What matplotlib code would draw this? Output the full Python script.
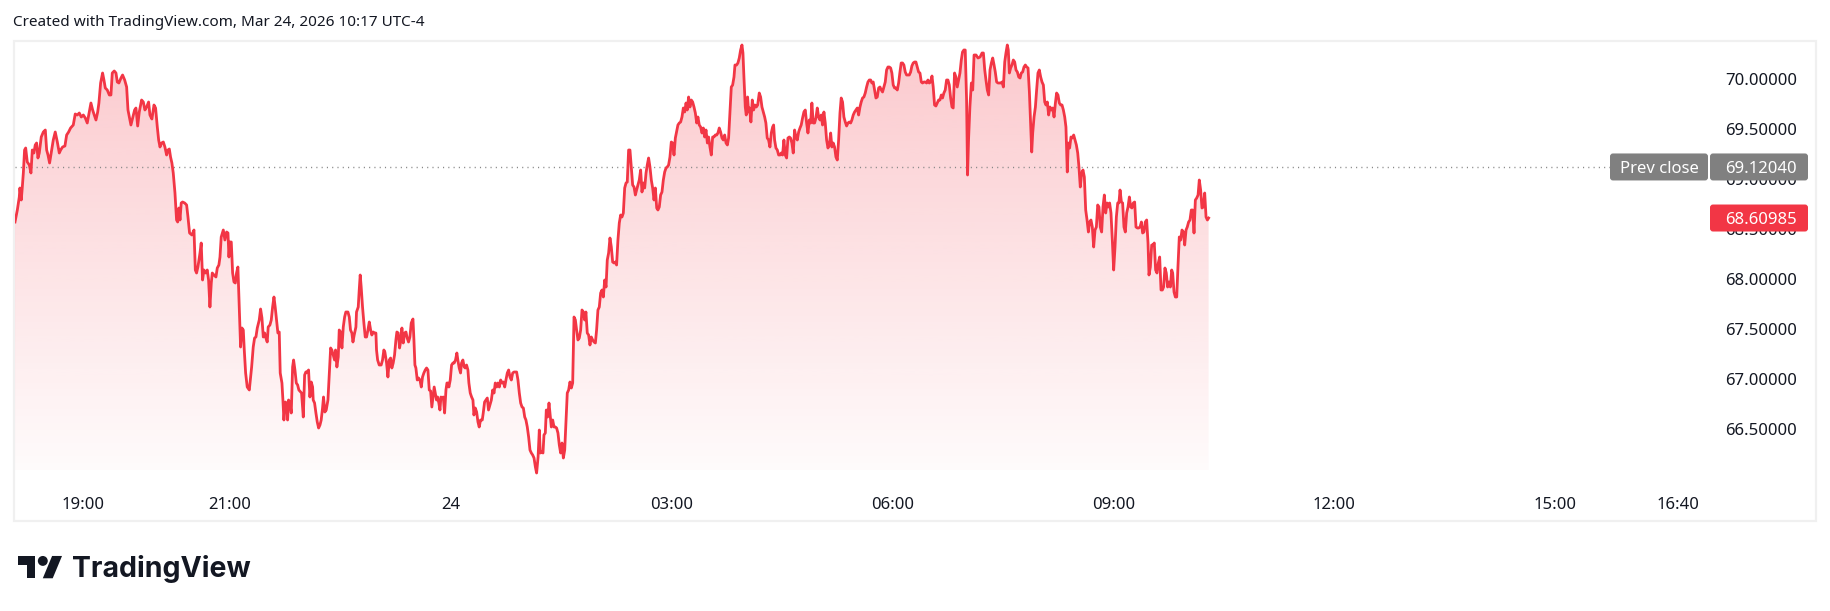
import numpy as np
import matplotlib.pyplot as plt
from matplotlib.colors import to_rgb
from matplotlib.patches import Rectangle, FancyBboxPatch, Polygon, Circle
from matplotlib.transforms import IdentityTransform

plt.rcParams['font.family'] = ['Noto Sans', 'DejaVu Sans']

# ===================== data: minutes after 18:00 (Mar 23) and price =====================
evening_t = [
    4.6, 6.5, 8.1, 8.6, 9.7, 10.5, 11.4, 12.4, 13.3, 14.6,
    16.3, 17.6, 18.7, 20.0, 21.1, 22.2, 23.3, 24.4, 26.0, 27.7,
    29.3, 30.4, 31.5, 32.8, 34.2, 35.8, 37.4, 39.1, 40.7, 41.8,
    43.4, 45.3, 46.7, 48.3, 49.9, 52.1, 53.7, 55.4, 57.0, 58.6,
    60.3, 61.9, 63.5, 65.2, 66.5, 67.9, 69.2, 70.6, 72.0, 73.0,
    74.4, 76.0, 77.1, 78.2, 79.8, 81.5, 82.8, 83.9, 85.5, 86.9,
    88.0, 89.3, 91.0, 92.3, 94.0, 95.6, 96.7, 97.8, 99.1, 100.5,
    102.1, 103.2, 104.6, 105.9, 107.8, 109.2, 110.5, 111.9, 113.5, 114.6,
    116.2, 117.9, 119.2, 120.6, 121.7, 122.8, 124.1, 125.5, 126.8, 128.2,
    129.3, 130.4, 131.4, 132.5, 133.6, 135.0, 136.3, 137.2, 138.2, 139.1,
    140.1, 141.2, 142.9, 144.5, 145.6, 146.9, 148.8, 150.5, 151.6, 152.6,
    153.7, 155.4, 156.4, 157.5, 158.6, 160.0, 161.3, 162.4, 163.5, 164.6,
    165.4, 166.8, 168.4, 169.5, 170.8, 171.7, 172.7, 174.4, 175.7, 177.1,
    178.2, 179.0, 179.8, 180.9, 182.0, 183.1, 184.2, 185.2, 186.3, 187.4,
    188.5, 189.6, 190.7, 191.5, 192.6, 193.9, 195.6,
]
evening_p = [
    68.57, 68.69, 68.82, 68.91, 68.79, 68.91, 69.06, 69.29, 69.31, 69.17,
    69.14, 69.06, 69.29, 69.26, 69.34, 69.36, 69.21, 69.26, 69.42, 69.47,
    69.49, 69.29, 69.24, 69.16, 69.27, 69.39, 69.47, 69.37, 69.26, 69.29,
    69.32, 69.33, 69.44, 69.47, 69.51, 69.54, 69.65, 69.64, 69.66, 69.62,
    69.64, 69.61, 69.56, 69.67, 69.76, 69.69, 69.64, 69.59, 69.67, 69.76,
    69.96, 70.06, 69.99, 69.91, 69.89, 69.84, 69.84, 70.06, 70.08, 70.06,
    69.97, 69.96, 70.01, 70.04, 69.99, 69.92, 69.69, 69.62, 69.54, 69.61,
    69.69, 69.71, 69.53, 69.67, 69.79, 69.77, 69.69, 69.72, 69.77, 69.64,
    69.60, 69.74, 69.71, 69.52, 69.39, 69.32, 69.36, 69.37, 69.32, 69.24,
    69.29, 69.30, 69.22, 69.16, 69.06, 68.86, 68.59, 68.57, 68.71, 68.59,
    68.76, 68.77, 68.76, 68.74, 68.62, 68.46, 68.44, 68.49, 68.09, 68.06,
    68.12, 68.26, 68.36, 67.99, 68.09, 68.06, 68.09, 67.99, 67.72, 67.96,
    68.06, 68.04, 68.02, 68.11, 68.14, 68.22, 68.42, 68.49, 68.39, 68.47,
    68.46, 68.22, 68.37, 68.37, 68.06, 67.97, 67.96, 68.06, 68.12, 67.72,
    67.32, 67.51, 67.49, 67.29, 67.06, 66.92, 66.89,
]

night_t = [
    197.5, 198.8, 199.9, 201.0, 202.1, 203.7, 204.8, 205.9, 207.0, 208.1,
    209.1, 210.2, 211.0, 212.4, 213.5, 214.6, 215.7, 216.7, 217.8, 218.9,
    220.0, 220.8, 222.2, 223.0, 223.8, 224.9, 226.0, 226.8, 227.6, 228.7,
    229.8, 230.9, 231.7, 232.8, 233.9, 235.0, 236.0, 237.4, 238.2, 239.6,
    240.7, 241.7, 242.8, 243.9, 245.0, 246.1, 247.2, 247.7, 248.8, 249.9,
    251.0, 252.1, 253.2, 254.2, 255.3, 256.1, 257.2, 258.3, 259.7, 260.8,
    261.9, 262.9, 264.0, 265.1, 265.9, 267.0, 268.1, 268.9, 270.0, 271.1,
    272.2, 273.3, 274.3, 276.0, 277.1, 278.1, 279.2, 280.1, 281.1, 282.5,
    283.0, 284.4, 285.2, 286.0, 286.8, 287.9, 289.0, 290.1, 291.2, 292.3,
    293.4, 294.5, 295.5, 296.6, 297.7, 298.8, 299.3, 300.2, 301.5, 303.1,
    304.2, 305.3, 306.1, 307.5, 308.6, 309.7, 310.8, 311.8, 312.9, 314.0,
    315.1, 315.9, 317.0, 318.1, 318.9, 320.0, 321.1, 322.2, 323.3, 324.3,
    325.4, 326.5, 327.6, 329.0, 329.8, 330.6, 331.4, 332.5, 333.6, 334.7,
    335.8, 336.8, 337.9, 339.0, 340.1, 341.2, 342.3, 343.4, 344.4, 345.5,
    346.3, 347.2, 348.2, 349.1, 350.1, 351.0, 351.8, 352.6, 353.7, 354.8,
    355.9, 356.7, 357.5, 358.3, 359.4, 360.5, 361.6, 362.6, 363.7, 364.8,
    365.6, 366.7, 367.8, 368.6, 369.7, 370.8, 371.6, 372.7, 373.8, 374.6,
    375.7, 376.8, 377.9, 378.7, 379.8, 380.9, 382.0, 383.0, 384.1, 385.5,
    386.3, 387.4, 388.5, 389.6, 390.6,
]
night_p = [
    67.12, 67.32, 67.41, 67.42, 67.51, 67.59, 67.70, 67.61, 67.42, 67.46,
    67.41, 67.37, 67.52, 67.54, 67.59, 67.72, 67.82, 67.72, 67.59, 67.46,
    67.47, 67.06, 66.96, 66.79, 66.59, 66.77, 66.76, 66.59, 66.79, 66.76,
    66.66, 67.12, 67.19, 67.09, 66.96, 66.94, 66.89, 66.87, 66.86, 66.62,
    67.04, 67.07, 67.07, 67.09, 66.82, 66.97, 66.92, 66.79, 66.76, 66.66,
    66.57, 66.51, 66.54, 66.59, 66.71, 66.82, 66.67, 66.69, 66.79, 67.06,
    67.31, 67.29, 67.24, 67.19, 67.29, 67.12, 67.22, 67.49, 67.47, 67.31,
    67.52, 67.62, 67.67, 67.67, 67.62, 67.49, 67.46, 67.37, 67.44, 67.52,
    67.67, 67.72, 67.89, 68.04, 67.92, 67.72, 67.56, 67.42, 67.42, 67.49,
    67.57, 67.49, 67.44, 67.47, 67.46, 67.46, 67.29, 67.19, 67.14, 67.14,
    67.19, 67.29, 67.27, 67.16, 67.02, 67.19, 67.21, 67.11, 67.16, 67.24,
    67.39, 67.47, 67.46, 67.31, 67.37, 67.51, 67.36, 67.46, 67.47, 67.41,
    67.37, 67.42, 67.56, 67.60, 67.39, 67.14, 67.11, 66.99, 67.01, 66.99,
    66.92, 67.02, 67.06, 67.09, 67.11, 67.09, 66.89, 66.88, 66.72, 66.84,
    66.92, 66.86, 66.79, 66.82, 66.76, 66.69, 66.82, 66.81, 66.82, 66.66,
    66.89, 66.96, 66.96, 66.92, 66.99, 67.14, 67.16, 67.16, 67.19, 67.26,
    67.19, 67.11, 67.06, 67.16, 67.19, 67.12, 67.11, 67.14, 67.09, 66.96,
    66.86, 66.82, 66.79, 66.64, 66.71, 66.67, 66.57, 66.52, 66.59, 66.59,
    66.66, 66.77, 66.79, 66.81, 66.69,
]

early_t = [
    392.9, 394.0, 395.1, 396.1, 397.2, 398.3, 399.4, 400.5, 401.6, 402.7,
    403.8, 404.8, 405.9, 407.0, 408.1, 409.2, 410.3, 411.4, 412.4, 413.5,
    414.6, 415.7, 416.8, 417.9, 419.0, 420.1, 421.1, 422.2, 423.3, 424.4,
    425.5, 426.6, 427.7, 428.8, 429.8, 431.0, 432.0, 432.8, 433.9, 435.0,
    435.8, 436.9, 437.7, 438.8, 439.9, 440.7, 441.8, 442.9, 444.0, 445.1,
    446.1, 447.2, 448.3, 449.4, 450.5, 451.6, 452.7, 453.7, 454.8, 455.9,
    457.0, 458.1, 459.2, 460.3, 461.4, 462.4, 463.5, 464.6, 465.7, 466.8,
    467.9, 469.0, 470.0, 471.1, 472.2, 473.3, 474.4, 475.5, 476.6, 477.7,
    478.7, 479.8, 480.9, 482.0, 483.1, 484.2, 485.3, 486.4, 487.4, 488.5,
    489.6, 490.7, 491.8, 492.9, 494.0, 495.0, 496.1, 497.2, 498.3, 499.4,
    500.5, 501.6, 502.7, 503.7, 504.8, 505.9, 507.0, 508.1, 509.2, 510.3,
    511.3, 512.4, 513.5, 514.6, 515.7, 516.8, 517.9, 519.0, 520.0, 521.1,
    522.2, 523.3, 524.4, 525.5, 526.6, 527.7, 528.7, 529.8, 530.9, 532.0,
    533.1, 534.2, 535.3, 536.3, 537.4, 538.5, 539.6, 540.7, 541.8, 542.9,
    543.9, 545.0, 546.1, 547.2, 548.3, 549.4, 550.5, 551.6, 552.6, 553.7,
    554.8, 555.9, 557.0, 558.1, 559.2, 560.3, 561.3, 562.4, 563.5, 564.6,
    565.7, 566.8, 567.9, 569.0, 570.0, 571.1, 572.2, 573.3, 574.4, 575.5,
    576.6, 577.6, 578.7, 579.8, 580.9, 582.0, 583.1, 584.2, 585.3, 586.3,
]
early_p = [
    66.79, 66.89, 66.86, 66.96, 66.92, 66.96, 66.92, 66.99, 66.96, 66.97,
    66.92, 66.99, 67.06, 67.09, 67.02, 66.99, 67.06, 67.07, 67.07, 67.07,
    66.99, 66.86, 66.76, 66.72, 66.71, 66.62, 66.59, 66.52, 66.42, 66.29,
    66.26, 66.24, 66.21, 66.12, 66.06, 66.22, 66.49, 66.26, 66.27, 66.26,
    66.44, 66.46, 66.69, 66.62, 66.76, 66.66, 66.52, 66.59, 66.52, 66.52,
    66.51, 66.46, 66.34, 66.26, 66.36, 66.21, 66.29, 66.56, 66.86, 66.89,
    66.97, 66.91, 66.96, 67.62, 67.59, 67.49, 67.39, 67.41, 67.49, 67.69,
    67.67, 67.59, 67.67, 67.46, 67.44, 67.34, 67.42, 67.39, 67.37, 67.36,
    67.49, 67.69, 67.72, 67.86, 67.89, 67.82, 67.99, 67.92, 68.19, 68.26,
    68.41, 68.32, 68.17, 68.16, 68.17, 68.14, 68.39, 68.56, 68.64, 68.62,
    68.66, 68.91, 68.96, 68.97, 69.29, 69.29, 69.12, 68.94, 68.92, 68.84,
    68.89, 68.94, 68.99, 69.09, 68.87, 68.96, 68.91, 69.06, 69.14, 69.21,
    69.12, 68.99, 68.91, 68.79, 68.91, 68.71, 68.69, 68.72, 68.84, 68.87,
    68.99, 69.07, 69.11, 69.12, 69.14, 69.22, 69.37, 69.36, 69.24, 69.41,
    69.47, 69.54, 69.56, 69.57, 69.62, 69.71, 69.67, 69.76, 69.69, 69.82,
    69.72, 69.79, 69.77, 69.72, 69.66, 69.56, 69.62, 69.54, 69.52, 69.46,
    69.51, 69.42, 69.49, 69.36, 69.42, 69.32, 69.24, 69.42, 69.42, 69.44,
    69.44, 69.46, 69.51, 69.47, 69.41, 69.39, 69.44, 69.36, 69.34, 69.41,
]

morning_t = [
    588.5, 589.6, 590.7, 591.5, 592.8, 593.9, 595.0, 596.1, 597.2, 598.0,
    598.8, 599.9, 600.7, 601.8, 602.6, 603.4, 604.5, 605.6, 606.7, 607.8,
    608.9, 610.0, 611.3, 612.4, 613.5, 614.6, 615.7, 616.7, 617.8, 618.9,
    620.0, 621.1, 622.2, 623.0, 623.8, 624.9, 626.0, 627.1, 628.2, 629.2,
    630.3, 631.4, 632.5, 633.6, 634.7, 635.8, 636.8, 637.9, 639.0, 640.1,
    641.2, 642.3, 643.4, 644.5, 645.5, 646.6, 647.7, 648.8, 649.9, 651.0,
    652.1, 653.2, 654.2, 655.3, 656.4, 657.5, 658.6, 659.7, 660.8, 661.8,
    662.9, 664.0, 665.1, 666.2, 667.3, 668.4, 669.5, 670.5, 671.6, 672.7,
    673.8, 674.9, 676.0, 677.1, 678.1, 679.2, 680.3, 681.4, 682.5, 683.6,
    684.7, 685.8, 686.8, 687.9, 689.0, 690.1, 691.2, 692.3, 693.4, 694.4,
    695.5, 696.6, 697.7, 698.8, 699.9, 701.0, 702.1, 703.1, 704.2, 705.3,
    706.4, 707.5, 708.6, 709.7, 710.8, 711.8, 712.9, 714.0, 715.1, 716.2,
    717.3, 718.4, 719.4, 720.5, 721.6, 722.7, 723.8, 724.9, 726.0, 727.0,
    728.1, 729.2, 730.3, 731.4, 732.5, 733.6, 734.7, 735.7, 736.8, 737.9,
    739.0, 740.1, 741.2, 742.3, 743.4, 744.4, 745.5, 746.6, 747.7, 748.8,
    749.9, 751.0, 752.1, 753.1, 754.2, 755.3, 756.4, 757.5, 758.6, 759.7,
    760.7, 761.8, 762.9, 764.0, 765.1, 766.2, 767.3, 768.4, 769.4, 770.5,
    771.6, 772.7, 773.8, 774.9, 776.0, 777.0, 778.1, 779.2, 780.3, 781.1,
    781.9, 783.0,
]
morning_p = [
    69.92, 69.94, 70.02, 70.14, 70.14, 70.16, 70.21, 70.29, 70.34, 70.26,
    70.02, 69.72, 69.64, 69.82, 69.67, 69.71, 69.57, 69.79, 69.69, 69.74,
    69.72, 69.74, 69.86, 69.82, 69.72, 69.67, 69.62, 69.56, 69.41, 69.39,
    69.32, 69.46, 69.52, 69.54, 69.39, 69.31, 69.29, 69.24, 69.24, 69.26,
    69.24, 69.39, 69.24, 69.21, 69.41, 69.42, 69.41, 69.36, 69.26, 69.49,
    69.42, 69.39, 69.47, 69.51, 69.54, 69.61, 69.67, 69.69, 69.56, 69.46,
    69.59, 69.56, 69.76, 69.56, 69.56, 69.61, 69.71, 69.62, 69.59, 69.64,
    69.54, 69.67, 69.56, 69.39, 69.31, 69.34, 69.46, 69.32, 69.36, 69.32,
    69.22, 69.19, 69.39, 69.66, 69.81, 69.77, 69.62, 69.57, 69.53, 69.56,
    69.57, 69.56, 69.59, 69.64, 69.67, 69.69, 69.71, 69.64, 69.72, 69.77,
    69.81, 69.82, 69.86, 69.92, 69.97, 69.99, 69.99, 69.96, 69.97, 69.89,
    69.81, 69.82, 69.91, 69.92, 69.89, 69.87, 69.92, 69.97, 70.09, 70.12,
    70.12, 70.11, 70.06, 69.94, 69.91, 69.91, 69.89, 69.96, 70.07, 70.16,
    70.16, 70.14, 70.07, 70.04, 70.04, 70.04, 70.07, 70.13, 70.16, 70.17,
    70.17, 70.12, 70.07, 70.06, 69.97, 69.96, 69.97, 69.97, 69.96, 69.99,
    69.96, 69.97, 70.03, 69.92, 69.74, 69.73, 69.76, 69.79, 69.79, 69.84,
    69.81, 69.86, 69.89, 69.99, 69.99, 69.94, 69.81, 69.72, 69.71, 70.06,
    70.02, 69.92, 69.99, 70.06, 70.19, 70.27, 70.29, 70.29, 69.79, 69.04,
    69.39, 69.72,
]

late_t = [
    784.2, 785.3, 786.4, 788.0, 789.6, 791.3, 792.9, 794.0, 795.1, 796.1,
    797.2, 798.3, 799.4, 800.5, 801.6, 802.7, 803.7, 804.8, 805.9, 807.0,
    808.1, 809.2, 810.3, 811.4, 812.4, 813.5, 814.3, 815.2, 816.2, 817.3,
    818.4, 819.5, 820.6, 821.7, 822.8, 823.9, 824.9, 826.0, 827.1, 828.2,
    829.3, 830.4, 831.5, 832.5, 833.4, 834.2, 835.3, 836.4, 837.4, 838.5,
    839.6, 840.7, 841.8, 842.9, 844.0, 845.0, 846.1, 847.2, 848.3, 849.4,
    850.5, 851.6, 852.7, 853.7, 854.8, 855.9, 857.0, 858.1, 859.2, 860.3,
    861.3, 862.4, 863.2, 864.3, 865.4, 866.5, 867.6, 868.7, 869.8, 870.9,
    871.9, 873.0, 874.1, 875.2, 876.3, 877.4, 878.5, 879.6, 880.6, 881.7,
    882.8, 883.9, 885.0, 886.1, 887.2, 888.2, 889.3, 890.4, 891.5, 892.6,
    893.7, 894.8, 895.9, 896.9, 898.0, 899.1, 900.2, 901.3, 902.4, 903.5,
    904.5, 905.4, 906.5, 907.5, 908.6, 909.7, 910.8, 911.9, 913.0, 914.1,
    915.1, 916.2, 917.3, 918.4, 919.5, 920.6, 921.7, 922.8, 923.8, 924.9,
    926.0, 927.1, 928.2, 929.0, 930.1, 931.2, 932.3, 933.3, 934.4, 935.5,
    936.6, 937.7, 938.8, 939.9, 940.9, 942.0, 943.1, 944.2, 945.3, 946.4,
    947.5, 948.3, 949.4, 950.5, 951.6, 952.6, 953.7, 954.8, 955.9, 957.0,
    958.1, 959.2, 960.2, 961.3, 962.4, 963.5, 964.6, 965.7, 966.8, 967.9,
    969.0, 970.0, 971.1, 972.2, 973.3, 974.4, 975.5, 976.6, 977.6,
]
late_p = [
    69.96, 69.89, 70.24, 70.24, 70.21, 70.22, 70.26, 70.26, 70.09, 69.99,
    69.89, 69.84, 70.09, 70.16, 70.21, 70.14, 70.07, 69.97, 69.96, 69.96,
    69.96, 69.97, 69.92, 70.17, 70.26, 70.34, 70.29, 70.06, 70.11, 70.14,
    70.19, 70.17, 70.09, 70.07, 70.02, 70.01, 70.06, 70.07, 70.12, 70.14,
    70.12, 70.11, 69.87, 69.56, 69.27, 69.46, 69.62, 69.72, 69.89, 70.06,
    70.09, 70.02, 69.97, 69.94, 69.77, 69.74, 69.77, 69.64, 69.72, 69.69,
    69.71, 69.62, 69.76, 69.86, 69.84, 69.76, 69.74, 69.74, 69.69, 69.62,
    69.52, 69.07, 69.36, 69.31, 69.42, 69.41, 69.44, 69.39, 69.34, 69.26,
    69.12, 68.92, 69.06, 69.09, 69.02, 68.69, 68.59, 68.47, 68.57, 68.59,
    68.52, 68.32, 68.49, 68.52, 68.74, 68.72, 68.52, 68.47, 68.72, 68.84,
    68.66, 68.76, 68.72, 68.76, 68.66, 68.39, 68.09, 68.32, 68.62, 68.76,
    68.76, 68.89, 68.77, 68.76, 68.52, 68.47, 68.66, 68.72, 68.82, 68.72,
    68.71, 68.76, 68.77, 68.52, 68.51, 68.51, 68.52, 68.57, 68.46, 68.47,
    68.57, 68.59, 68.36, 68.04, 68.12, 68.34, 68.34, 68.36, 68.09, 68.06,
    68.16, 68.22, 67.89, 67.89, 67.92, 68.11, 68.06, 67.92, 67.97, 67.92,
    68.09, 68.06, 67.87, 67.82, 67.82, 68.12, 68.42, 68.39, 68.49, 68.47,
    68.34, 68.49, 68.52, 68.57, 68.59, 68.69, 68.69, 68.46, 68.79, 68.81,
    68.84, 68.99, 68.89, 68.71, 68.72, 68.86, 68.62, 68.59, 68.60985,
]

prev_close = 69.12040
last_price = 68.60985

price_ticks = [66.5, 67.0, 67.5, 68.0, 68.5, 69.0, 69.5, 70.0]
time_ticks = [60, 180, 360, 540, 720, 900, 1080, 1260, 1360]
time_labels = ["19:00", "21:00", "24", "03:00", "06:00", "09:00", "12:00", "15:00", "16:40"]
title_text = "Created with TradingView.com, Mar 24, 2026 10:17 UTC-4"

minutes = np.concatenate([evening_t, night_t, early_t, morning_t, late_t])
price = np.concatenate([evening_p, night_p, early_p, morning_p, late_p])
assert len(minutes) == len(price)

# ===================== layout (pixels) =====================
W, H = 1830, 611
RED = "#f23645"
TXT = "#131722"

fig = plt.figure(figsize=(W / 100, H / 100), dpi=100)
fig.patch.set_facecolor("white")

# panel border
fig.add_artist(Rectangle((14 / W, 1 - 521 / H), (1816 - 14) / W, (521 - 41) / H,
                         transform=fig.transFigure, fill=False,
                         edgecolor="#f0f0f0", linewidth=1.6, zorder=0))

ax = fig.add_axes([15 / W, 1 - 481 / H, (1709 - 15) / W, (481 - 41) / H])
ax.set_facecolor("none")
for s in ax.spines.values():
    s.set_visible(False)

fill_bottom = 66.09
y_top = 70.38

# gradient area under the line
grad = np.zeros((256, 1, 4))
grad[..., :3] = to_rgb(RED)
grad[:, 0, 3] = np.linspace(0.27, 0.02, 256)
im = ax.imshow(grad, extent=[minutes[0], minutes[-1], fill_bottom, y_top],
               aspect="auto", origin="upper", interpolation="bilinear", zorder=1)
verts = [(minutes[0], fill_bottom)] + list(zip(minutes, price)) + [(minutes[-1], fill_bottom)]
clip = Polygon(verts, closed=True, facecolor="none", edgecolor="none")
ax.add_patch(clip)
im.set_clip_path(clip)

ax.plot(minutes, price, color=RED, lw=2.0, solid_joinstyle="round", zorder=3)

# previous close dotted line
ax.axhline(prev_close, xmin=0, xmax=(1610 - 15) / (1709 - 15), color="#888888",
           lw=1.0, linestyle=(0, (0.8, 3.0)), zorder=2)

ax.set_xlim(4.6, 1385.5)
ax.set_ylim(65.98, y_top)

ax.set_xticks(time_ticks)
ax.set_xticklabels(time_labels)
ax.yaxis.tick_right()
ax.set_yticks(price_ticks)
ax.set_yticklabels([f"{v:.5f}" for v in price_ticks])
ax.tick_params(axis="x", length=0, pad=11.5, labelsize=12, labelcolor=TXT)
ax.tick_params(axis="y", length=0, pad=63.4, labelsize=12, labelcolor=TXT)
for lab in ax.get_yticklabels():
    lab.set_horizontalalignment("right")

# price-scale labels (boxes)
ident = IdentityTransform()


def price_box(x0, x1, value, color):
    yc = ax.transData.transform((0, value))[1]
    box = FancyBboxPatch((x0, yc - 13.5), x1 - x0, 27,
                         boxstyle="round,pad=0,rounding_size=3",
                         transform=ident, facecolor=color, edgecolor="none", zorder=5)
    fig.add_artist(box)
    return yc


yc = price_box(1610, 1708, prev_close, "#808080")
price_box(1710, 1808, prev_close, "#808080")
fig.text(1659 / W, yc / H, "Prev close", color="white", fontsize=12,
         ha="center", va="center_baseline", zorder=6)
fig.text(1797 / W, yc / H, f"{prev_close:.5f}", color="white", fontsize=12,
         ha="right", va="center_baseline", zorder=6)

yc = price_box(1710, 1808, last_price, RED)
fig.text(1797 / W, yc / H, f"{last_price:.5f}", color="white", fontsize=12,
         ha="right", va="center_baseline", zorder=6)

# header
fig.text(13 / W, 1 - 21 / H, title_text, fontsize=11, color=TXT,
         ha="left", va="center_baseline")

# TradingView logo (icon from the 36x28 logo outline, scaled)
s, lx, ly = 1.24, 18, 551
def lp(x, y):
    return (lx + s * x, H - (ly + s * y))

icon_parts = [
    [(14, 22), (7, 22), (7, 11), (0, 11), (0, 4), (14, 4)],
    [(28, 22), (20, 22), (27.5, 4), (35.5, 4)],
]
for part in icon_parts:
    fig.add_artist(Polygon([lp(*p) for p in part], closed=True, transform=ident,
                           facecolor="#131722", edgecolor="none"))
cx, cy = lp(20, 8)
fig.add_artist(Circle((cx, cy), 4 * s, transform=ident, facecolor="#131722", edgecolor="none"))
fig.text(72 / W, 1 - 566 / H, "TradingView", fontsize=20.5, fontweight="bold",
         family=["Inter", "DejaVu Sans"], color="#131722", ha="left", va="center_baseline")

fig.savefig("out.png", dpi=100, facecolor="white")
